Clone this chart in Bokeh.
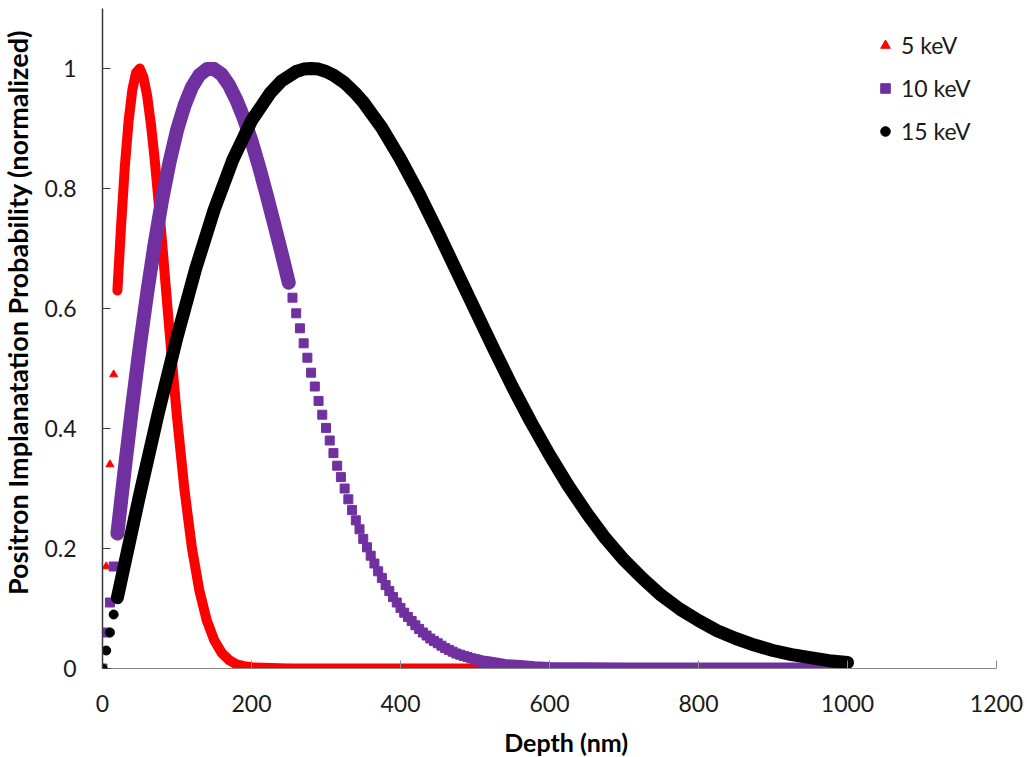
import math
from bokeh.plotting import figure
from bokeh.layouts import row, column
from bokeh.models import FixedTicker, CustomJSTickFormatter, Legend, LegendItem
from bokeh.core.properties import value
from bokeh.embed import file_html
from bokeh.resources import INLINE

# ---- data ----
series_labels = ["5 keV", "10 keV", "15 keV"]
x_title = "Depth (nm)"
y_title = "Positron Implanatation Probability (normalized)"

early_depth = [0, 5, 10, 15]
red_early = [0.0, 0.17, 0.34, 0.49]
purple_early = [0.0, 0.06, 0.11, 0.17]
black_early = [0.0, 0.03, 0.06, 0.09]

red_depth = [20, 25, 30, 35, 40, 45, 50, 55, 60, 65, 70, 75, 80, 85, 90, 95, 100,
             110, 120, 130, 140, 150, 160, 170, 180, 190, 200, 250]
red_val = [0.63, 0.739, 0.837, 0.912, 0.964, 0.993, 1.0, 0.985, 0.954, 0.907, 0.849,
           0.782, 0.710, 0.635, 0.561, 0.488, 0.419, 0.298, 0.201, 0.130, 0.080,
           0.047, 0.026, 0.014, 0.007, 0.004, 0.002, 0.0]
red_tail_depth = [250, 400, 600, 800, 1000]
red_tail_val = [0.0, 0.0, 0.0, 0.0, 0.0]

purple_depth = [20, 30, 40, 50, 60, 70, 80, 90, 100, 110, 120, 130, 140, 150, 160,
                170, 180, 190, 200, 210, 220, 230, 240, 250]
purple_val = [0.225, 0.334, 0.438, 0.536, 0.626, 0.708, 0.781, 0.844, 0.897, 0.938,
              0.969, 0.989, 0.999, 0.999, 0.990, 0.972, 0.947, 0.916, 0.879, 0.837,
              0.791, 0.743, 0.694, 0.643]
purple_sq_depth = [255, 260, 265, 270, 275, 280, 285, 290, 295, 300, 305, 310, 315,
                   320, 325, 330, 335, 340, 345, 350, 355, 360, 365, 370, 375, 380,
                   385, 390, 395, 400, 405, 410, 415, 420, 425, 430, 435, 440, 445,
                   450, 455, 460, 465, 470, 475, 480, 485, 490, 495, 500]
purple_sq_val = [0.618, 0.592, 0.567, 0.542, 0.518, 0.493, 0.470, 0.446, 0.423, 0.401,
                 0.380, 0.359, 0.338, 0.319, 0.300, 0.282, 0.264, 0.247, 0.232, 0.216,
                 0.202, 0.188, 0.175, 0.162, 0.151, 0.139, 0.129, 0.119, 0.110, 0.101,
                 0.093, 0.086, 0.079, 0.072, 0.066, 0.060, 0.055, 0.050, 0.046, 0.042,
                 0.038, 0.034, 0.031, 0.028, 0.025, 0.023, 0.021, 0.019, 0.017, 0.015]
purple_tail_depth = [500, 510, 520, 530, 540, 550, 560, 580, 600, 700, 1000]
purple_tail_val = [0.015, 0.012, 0.010, 0.008, 0.006, 0.005, 0.004, 0.002, 0.001, 0.0, 0.0]

black_depth = [20, 25, 50, 75, 100, 125, 150, 175, 200, 225, 240, 260, 270, 280, 290,
               300, 310, 325, 340, 350, 375, 400, 425, 450, 475, 500, 525, 550, 575,
               600, 625, 650, 675, 700, 725, 750, 775, 800, 825, 850, 875, 900, 925,
               950, 975, 1000]
black_val = [0.118, 0.147, 0.290, 0.426, 0.552, 0.666, 0.765, 0.848, 0.913, 0.959,
             0.979, 0.995, 0.999, 1.0, 0.999, 0.995, 0.989, 0.976, 0.958, 0.944,
             0.901, 0.849, 0.791, 0.728, 0.663, 0.598, 0.533, 0.470, 0.411, 0.356,
             0.305, 0.259, 0.217, 0.181, 0.150, 0.122, 0.099, 0.080, 0.063, 0.050,
             0.039, 0.030, 0.023, 0.018, 0.013, 0.010]

x_ticks = [0, 200, 400, 600, 800, 1000, 1200]
y_ticks = [0, 0.2, 0.4, 0.6, 0.8, 1.0]

RED = "#ff0000"
PURPLE = "#7030a0"
BLACK = "#000000"
FONT = "Lato"

# ---- main chart ----
p = figure(width=993, height=725, x_range=(0, 1200), y_range=(0, 1.1),
           output_backend="svg", toolbar_location=None,
           min_border_left=68, min_border_right=31, min_border_top=8, min_border_bottom=57)
p.outline_line_color = None
p.xgrid.visible = False
p.ygrid.visible = False
p.background_fill_color = "white"
p.border_fill_color = "white"

# red series
p.line(red_depth, red_val, line_width=10, color=RED, line_cap="round", line_join="round")
p.line(red_tail_depth, red_tail_val, line_width=10, color=RED)
r_red = p.scatter(early_depth, red_early, marker="triangle", size=8, color=RED)

# purple series
p.line(purple_depth, purple_val, line_width=14, color=PURPLE, line_cap="round", line_join="round")
p.scatter(purple_sq_depth, purple_sq_val, marker="square", size=9, color=PURPLE)
p.line(purple_tail_depth, purple_tail_val, line_width=12, color=PURPLE, line_join="round")
r_purple = p.scatter(early_depth, purple_early, marker="square", size=9, color=PURPLE)

# black series
p.line(black_depth, black_val, line_width=13, color=BLACK, line_cap="round", line_join="round")
r_black = p.scatter(early_depth, black_early, marker="circle", size=9, color=BLACK)

# axes
p.xaxis.ticker = FixedTicker(ticks=x_ticks)
p.yaxis.ticker = FixedTicker(ticks=y_ticks)
p.yaxis.formatter = CustomJSTickFormatter(code="return String(Math.round(tick*10)/10)")
for ax in (p.xaxis[0], p.yaxis[0]):
    ax.major_tick_in = 8
    ax.major_tick_out = 0
    ax.minor_tick_in = 0
    ax.minor_tick_out = 0
    ax.major_label_text_font = FONT
    ax.major_label_text_font_size = "23px"
    ax.major_label_text_color = "#1a1a1a"

p.xaxis.axis_line_color = "#8a8a8a"
p.xaxis.major_tick_line_color = "#8a8a8a"
p.yaxis.axis_line_color = "#3a3a3a"
p.yaxis.major_tick_line_color = "#3a3a3a"
p.yaxis.axis_line_width = 1.5
p.xaxis.major_label_standoff = 26
p.yaxis.major_label_standoff = 26

legend = Legend(items=[LegendItem(label=series_labels[0], renderers=[r_red]),
                       LegendItem(label=series_labels[1], renderers=[r_purple]),
                       LegendItem(label=series_labels[2], renderers=[r_black])],
                location=(771, 523), glyph_width=24, glyph_height=24, label_height=24,
                spacing=15, padding=0, margin=0, label_standoff=4,
                border_line_color=None, background_fill_alpha=0,
                label_text_font=FONT, label_text_font_size="23px", label_text_color="#1a1a1a")
p.add_layout(legend)


def text_panel(w, h):
    f = figure(width=w, height=h, x_range=(0, w), y_range=(0, h),
               output_backend="svg", toolbar_location=None,
               x_axis_location=None, y_axis_location=None,
               min_border_left=0, min_border_right=0, min_border_top=0, min_border_bottom=0)
    f.outline_line_color = None
    f.grid.visible = False
    f.background_fill_color = "white"
    f.border_fill_color = "white"
    return f


# ---- y-axis title panel (left strip) ----
ty = text_panel(34, 757)
ty.text(x=[17], y=[445], text=[y_title], angle=math.pi / 2,
        text_align="center", text_baseline="middle",
        text_font=value(FONT), text_font_style="bold", text_font_size=value("27px"),
        text_color="#000000")

# ---- x-axis title panel (bottom strip) ----
tx = text_panel(993, 32)
tx.text(x=[515], y=[15.5], text=[x_title],
        text_align="center", text_baseline="middle",
        text_font=value(FONT), text_font_style="bold", text_font_size=value("25px"),
        text_color="#000000")

layout = row(ty, column(p, tx, spacing=0), spacing=0)
open("out.html", "w").write(file_html(layout, INLINE))
